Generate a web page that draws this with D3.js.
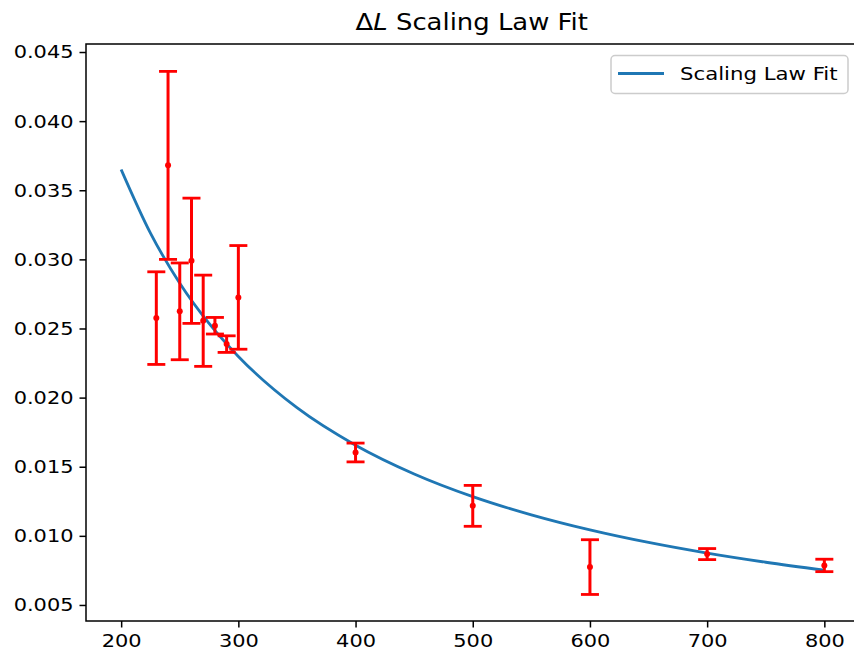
<!DOCTYPE html>
<html>
<head>
<meta charset="utf-8">
<script src="https://cdn.jsdelivr.net/npm/d3@7"></script>
<style>
  body { margin: 0; background: #fff; }
  svg { display: block; font-family: "DejaVu Sans", sans-serif; }
</style>
</head>
<body>
<script>
// measured points with symmetric error
var sizes  = [230, 240, 250, 260, 270, 280, 290, 300, 400, 500, 600, 700, 800];
var deltaL = [0.02575, 0.0368, 0.02624, 0.0299, 0.02556, 0.0252, 0.02387, 0.02725, 0.01603, 0.01217, 0.00774, 0.00868, 0.00786];
var errs   = [0.00335, 0.0068, 0.0035, 0.00453, 0.0033, 0.0006, 0.0006, 0.00375, 0.00068, 0.00148, 0.00198, 0.0004, 0.00045];

// fit curve
var fitX = [200, 225, 250, 275, 300, 350, 400, 450, 500, 550, 600, 650, 700, 750, 800];
var fitY = [0.0365, 0.0319, 0.02828, 0.02537, 0.02298, 0.01927, 0.01656, 0.01448, 0.01284, 0.01152, 0.01043, 0.00952, 0.00875, 0.00809, 0.00752];

var xTicks = [200, 300, 400, 500, 600, 700, 800];
var yTicks = [0.005, 0.010, 0.015, 0.020, 0.025, 0.030, 0.035, 0.040, 0.045];

(function(){
var w = 854, h = 656;
var pLeft = 86, pTop = 44, pRight = 859.5, pBottom = 621;

var svg = d3.select("body").append("svg")
    .attr("width", w)
    .attr("height", h);

var x = d3.scaleLinear().domain([170, 830]).range([pLeft, pRight]);
var y = d3.scaleLinear().domain([0.00384, 0.04558]).range([pBottom, pTop]);

// the reference text is a bit wider than DejaVu at its height
function stretch(sel, k){
    sel.each(function(){
        var len = this.getComputedTextLength();
        d3.select(this).attr("textLength", len * k).attr("lengthAdjust", "spacingAndGlyphs");
    });
}

// fit line
var line = d3.line()
    .x(function(d){ return x(d[0]); })
    .y(function(d){ return y(d[1]); })
    .curve(d3.curveMonotoneX);

svg.append("path")
    .datum(d3.zip(fitX, fitY))
    .attr("d", line)
    .attr("fill", "none")
    .attr("stroke", "#1f77b4")
    .attr("stroke-width", 2.8);

// error bars
var pts = d3.zip(sizes, deltaL, errs);
var bars = svg.append("g").attr("class", "errbars");
var cap = 9;

bars.selectAll(".stem").data(pts).enter().append("line")
    .attr("x1", function(d){ return x(d[0]); })
    .attr("x2", function(d){ return x(d[0]); })
    .attr("y1", function(d){ return y(d[1] - d[2]); })
    .attr("y2", function(d){ return y(d[1] + d[2]); })
    .attr("stroke", "#ff0000")
    .attr("stroke-width", 3);

bars.selectAll(".capTop").data(pts).enter().append("line")
    .attr("x1", function(d){ return x(d[0]) - cap; })
    .attr("x2", function(d){ return x(d[0]) + cap; })
    .attr("y1", function(d){ return y(d[1] + d[2]); })
    .attr("y2", function(d){ return y(d[1] + d[2]); })
    .attr("stroke", "#ff0000")
    .attr("stroke-width", 2.8);

bars.selectAll(".capBot").data(pts).enter().append("line")
    .attr("x1", function(d){ return x(d[0]) - cap; })
    .attr("x2", function(d){ return x(d[0]) + cap; })
    .attr("y1", function(d){ return y(d[1] - d[2]); })
    .attr("y2", function(d){ return y(d[1] - d[2]); })
    .attr("stroke", "#ff0000")
    .attr("stroke-width", 2.8);

bars.selectAll("circle").data(pts).enter().append("circle")
    .attr("cx", function(d){ return x(d[0]); })
    .attr("cy", function(d){ return y(d[1]); })
    .attr("r", 3)
    .attr("fill", "#ff0000");

// axes
var xAxis = d3.axisBottom(x).tickValues(xTicks).tickSize(6.5).tickPadding(6.5).tickSizeOuter(0);
var yAxis = d3.axisLeft(y).tickValues(yTicks).tickSize(6.5).tickPadding(6).tickSizeOuter(0)
    .tickFormat(d3.format(".3f"));

var gx = svg.append("g").attr("transform", "translate(0," + pBottom + ")").call(xAxis);
var gy = svg.append("g").attr("transform", "translate(" + pLeft + ",0)").call(yAxis);

[gx, gy].forEach(function(g){
    g.select(".domain").remove();
    g.selectAll(".tick line").attr("stroke", "#000").attr("stroke-width", 1.5);
    g.selectAll(".tick text").attr("fill", "#000").style("font-size", "18.5px")
        .style("font-family", "DejaVu Sans");
    stretch(g.selectAll(".tick text"), 1.13);
});

// frame
svg.append("rect")
    .attr("x", pLeft).attr("y", pTop)
    .attr("width", pRight - pLeft).attr("height", pBottom - pTop)
    .attr("fill", "none")
    .attr("stroke", "#000")
    .attr("stroke-width", 1.5);

// title
var title = svg.append("text")
    .attr("x", (pLeft + pRight) / 2 - 1)
    .attr("y", 30)
    .attr("text-anchor", "middle")
    .style("font-size", "22.5px");
title.append("tspan").text("\u0394");
title.append("tspan").style("font-style", "italic").text("L");
title.append("tspan").text(" Scaling Law Fit");
stretch(title, 1.15);

// legend
var legend = svg.append("g").attr("class", "legend");
legend.append("rect")
    .attr("x", 611).attr("y", 55.5)
    .attr("width", 237).attr("height", 38)
    .attr("rx", 4)
    .attr("fill", "#fff")
    .attr("fill-opacity", 0.8)
    .attr("stroke", "#cccccc")
    .attr("stroke-width", 1.5);
legend.append("line")
    .attr("x1", 618).attr("x2", 664)
    .attr("y1", 73.5).attr("y2", 73.5)
    .attr("stroke", "#1f77b4")
    .attr("stroke-width", 2.8);
var legText = legend.append("text")
    .attr("x", 680).attr("y", 80)
    .style("font-size", "18px")
    .text("Scaling Law Fit");
stretch(legText, 1.18);
})();
</script>
</body>
</html>
